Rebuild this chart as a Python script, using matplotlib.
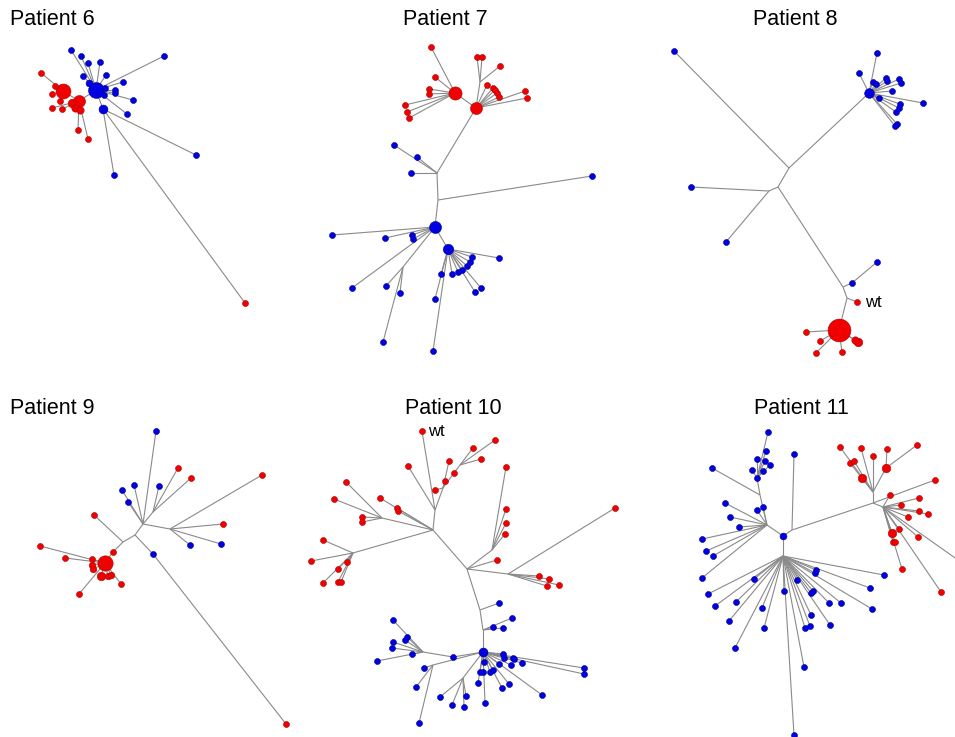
import matplotlib.pyplot as plt
from matplotlib.collections import LineCollection

# haplotype trees, node coords (pixels), parent = index, -1 root
# col: r = red, b = blue, n = internal node (no marker); n = haplotype abundance

p6_x = [96, 103, 79, 63, 71, 81, 88, 100, 106, 83, 123, 115, 115, 133, 127, 164, 89, 105, 104,
        196, 114, 245, 41, 55, 52, 60, 52, 62, 78, 88, 72, 75, 80]
p6_y = [90, 109, 101, 91, 50, 56, 63, 62, 75, 76, 82, 90, 93, 100, 114, 56, 83, 88, 95,
        155, 175, 303, 73, 86, 94, 101, 108, 109, 130, 139, 103, 108, 110]
p6_par = [-1, 0, 0, 2, 0, 0, 0, 0, 0, 0, 0, 0, 0, 0, 0, 0, 0, 0, 0,
          1, 1, 1, 3, 3, 3, 3, 2, 2, 2, 2, 2, 2, 2]
p6_col = "bbrrbbbbbbbbbbbbbbbbbrrrrrrrrrrrr"
p6_n = [7, 2.2, 4, 6.2, 1, 1, 1, 1, 1, 1, 1, 1, 1, 1, 1, 1, 1.3, 1, 1,
        1, 1, 1, 1, 1, 1, 1, 1, 1, 1, 1, 2, 1.5, 1.5]

p7_x = [437, 438, 476, 455, 435, 448, 592, 394, 417, 411,
        431, 435, 429, 429, 405, 407, 409,
        480, 477, 482, 500, 487, 493, 495, 497, 499, 525, 527,
        332, 385, 412, 413, 352, 403, 386, 400, 383,
        499, 472, 470, 467, 462, 458, 452, 475, 481, 441, 435, 433]
p7_y = [173, 200, 108, 93, 227, 249, 176, 145, 157, 173,
        47, 77, 89, 94, 105, 112, 118,
        82, 57, 57, 66, 85, 88, 90, 93, 97, 91, 98,
        235, 238, 235, 239, 288, 267, 286, 293, 342,
        258, 257, 262, 266, 270, 272, 274, 292, 288, 274, 299, 351]
p7_par = [-1, 0, 0, 2, 1, 4, 1, 0, 0, 0,
          3, 3, 3, 3, 3, 3, 3,
          2, 17, 17, 17, 2, 2, 2, 2, 2, 2, 2,
          4, 4, 4, 4, 4, 4, 33, 33, 33,
          5, 5, 5, 5, 5, 5, 5, 5, 5, 5, 5, 5]
p7_col = "nnrrbbbbbb" + "rrrrrrr" + "nrrrrrrrrrr" + "bbbbbnbbb" + "bbbbbbbbbbbb"
p7_n = [0, 0, 4, 4.8, 4, 3, 1, 1, 1, 1] + [1] * 7 + [0] + [1] * 10 + [1] * 5 + [0] + [1] * 3 + [1] * 12

p8_x = [789, 869, 674, 778, 769, 691, 726, 843, 852, 877, 847, 857, 839,
        877, 859, 873, 876, 886, 887, 899, 901, 892, 923, 879, 900, 899, 896, 897, 895,
        806, 820, 816, 842, 858, 855]
p8_y = [168, 93, 51, 187, 191, 187, 242, 287, 283, 262, 298, 302, 330,
        53, 73, 82, 84, 78, 81, 79, 83, 91, 103, 98, 104, 108, 112, 124, 126,
        332, 341, 353, 352, 342, 340]
p8_par = [-1, 0, 0, 0, 3, 4, 4, 3, 7, 8, 7, 10, 10] + [1] * 16 + [12] * 6
p8_col = "nbbnnbbnbbnrr" + "b" * 16 + "r" * 6
p8_n = [0, 2.6, 1, 0, 0, 1, 1, 0, 1, 1, 0, 1, 14.5] + [1] * 16 + [1, 1, 1, 1, 2, 1.5]

p9_x = [143, 135, 123, 113, 105, 101, 153, 170, 153, 286, 94, 156, 122, 134, 128,
        178, 191, 159, 262, 223, 190, 221, 40, 65, 92, 79, 121, 92, 93, 108, 111]
p9_y = [524, 535, 542, 552, 563, 576, 512, 529, 554, 724, 515, 431, 490, 485, 502,
        468, 478, 486, 475, 524, 545, 544, 546, 558, 559, 594, 584, 565, 569, 576, 575]
p9_par = [-1, 0, 1, 2, 3, 4, 0, 0, 1, 8, 2, 0, 0, 0, 0,
          6, 6, 6, 7, 7, 7, 7, 4, 4, 4, 4, 4, 4, 4, 4, 4]
p9_col = "nnnrrrnnbrrbbbb" + "rrbrrbb" + "r" * 9
p9_n = [0, 0, 0, 1, 6.5, 2, 0, 0, 1, 1, 1, 1, 1, 1, 1,
        1, 1, 1, 1, 1, 1, 1, 1, 1, 1, 1, 1, 1.2, 1.2, 1.2, 1.2]

p10_x = [433, 435, 443, 422, 353, 323, 311, 338, 347, 323, 338, 341,
         382, 346, 334, 362, 362, 380, 397, 398, 408, 435, 445, 454, 449, 460, 473, 495, 481,
         467, 492, 506, 506, 506, 505, 497, 508, 539, 549, 547, 559, 615,
         480, 499, 483, 493, 512, 503, 483,
         503, 504, 513, 514, 522, 511, 499, 584, 584, 542, 509, 502, 493, 490, 484, 483, 480, 478, 485,
         463, 464, 466, 452, 440, 453, 423, 393, 407, 405, 393, 392, 412, 377, 433, 424, 416, 419]
p10_y = [530, 510, 488, 431, 553, 540, 561, 569, 562, 583, 582, 582,
         518, 482, 499, 517, 522, 498, 508, 511, 466, 490, 481, 473, 461, 465, 448, 440, 459,
         569, 550, 467, 509, 523, 534, 560, 574, 576, 579, 586, 585, 508,
         610, 603, 630, 627, 618, 628, 652,
         654, 658, 658, 659, 663, 665, 664, 668, 674, 695, 684, 688, 670, 672, 662, 672, 672, 683, 703,
         678, 707, 696, 705, 697, 657, 652, 620, 637, 640, 642, 648, 654, 661, 665, 668, 687, 723]
p10_par = [-1, 0, 1, 1, 0, 4, 4, 4, 4, 4, 4, 4,
           0, 12, 12, 12, 12, 0, 0, 0, 1, 2, 2, 2, 2, 23, 25, 25, 25,
           0, 29, 30, 30, 30, 30, 29, 29, 36, 36, 36, 36, 36,
           29, 42, 42, 44, 44, 44, 44] + [48] * 19 + [48, 68, 68, 68, 68, 48, 73] + [74] * 7 + [48, 82, 82, 82]
p10_col = ("nnnrnrrrrrrr" + "nrrrrrrrrrrrrnrrr" + "nnrrrrrnrrrrr" + "nbnbbbb"
           + "b" * 19 + "nbbbbbn" + "b" * 7 + "nbbb")
p10_n = ([0, 0, 0, 1, 0] + [1] * 7 + [0] + [1] * 12 + [0] + [1] * 3 + [0, 0] + [1] * 5 + [0] + [1] * 5
         + [0, 1, 0, 1, 1, 1, 2.2] + [1] * 19 + [0, 1, 1, 1, 1, 1, 0] + [1] * 7 + [0, 1, 1, 1])

p11_x = [783, 783, 792, 794, 873, 767, 760, 757, 768, 766, 757, 765, 770, 752, 763, 712,
         763, 757, 725, 730, 739, 702, 706, 713, 702,
         754, 708, 715, 736, 729, 735, 762, 764, 784, 797, 794, 804, 805, 810, 811, 811, 813,
         829, 841, 830, 815, 816, 884, 870, 872,
         873, 840, 850, 854, 862, 861, 873, 886, 887, 917, 935,
         883, 890, 901, 919, 919, 928, 908, 899, 918, 892, 893, 895, 902, 941, 958]
p11_y = [536, 556, 530, 454, 503, 525, 495, 478, 432, 451, 459, 461, 465, 470, 471, 468,
         507, 510, 503, 517, 527, 539, 551, 556, 578,
         579, 594, 606, 602, 621, 648, 608, 628, 591, 580, 735, 667, 628, 626, 615, 593, 591,
         603, 603, 625, 573, 570, 575, 588, 609,
         492, 447, 463, 461, 478, 448, 456, 468, 449, 445, 480,
         507, 495, 505, 498, 511, 514, 517, 529, 537, 533, 542, 542, 569, 592, 560]
p11_par = ([-1, 0, 0, 2, 2, 0, 5, 6] + [7] * 7 + [6] + [5] * 9 + [1] * 25
           + [4] + [50] * 7 + [57, 57, 4] + [4] + [61] * 14)
p11_col = ("bnnbnnnb" + "b" * 8 + "b" * 9 + "b" * 25
           + "n" + "r" * 10 + "n" + "r" * 13 + "n")
p11_n = ([1.3, 0, 0, 1, 0, 0, 0, 1] + [1] * 8 + [1] * 9 + [1] * 25
         + [0, 1, 1, 1, 2, 1, 1, 2, 1, 1, 1] + [0] + [1] * 8 + [2, 1, 1, 1, 1, 0])

titles = ["Patient 6", "Patient 7", "Patient 8", "Patient 9", "Patient 10", "Patient 11"]
title_pos = [(10, 19, "left"), (445, 19, "center"), (795, 19, "center"),
             (10, 408, "left"), (453, 408, "center"), (801, 408, "center")]
wt_labels = [(865, 302), (428, 431)]

trees = [(p6_x, p6_y, p6_par, p6_col, p6_n), (p7_x, p7_y, p7_par, p7_col, p7_n),
         (p8_x, p8_y, p8_par, p8_col, p8_n), (p9_x, p9_y, p9_par, p9_col, p9_n),
         (p10_x, p10_y, p10_par, p10_col, p10_n), (p11_x, p11_y, p11_par, p11_col, p11_n)]

plt.rcParams['font.family'] = ['Liberation Sans', 'DejaVu Sans']
fig = plt.figure(figsize=(9.55, 7.37), dpi=100)
ax = fig.add_axes([0, 0, 1, 1])
ax.set_xlim(0, 955)
ax.set_ylim(737, 0)
ax.axis('off')

face = {'r': '#f00000', 'b': '#0000e0'}
edge = {'r': '#b00000', 'b': '#00009a'}

for xs, ys, par, col, n in trees:
    segs = [[(xs[i], ys[i]), (xs[p], ys[p])] for i, p in enumerate(par) if p >= 0]
    ax.add_collection(LineCollection(segs, colors='#8a8a8a', linewidths=0.8, zorder=1))
    # big nodes first so the small leaves sit on top
    order = sorted([i for i in range(len(xs)) if col[i] != 'n'], key=lambda i: -n[i])
    for i in order:
        d = 6.0 * n[i] ** 0.5  # diameter in px
        ax.scatter(xs[i], ys[i], s=(d * 0.72) ** 2, c=face[col[i]],
                   edgecolors=edge[col[i]], linewidths=0.4, zorder=2)

for t, (x, y, ha) in zip(titles, title_pos):
    ax.text(x, y, t, fontsize=15.5, ha=ha, va='center')
for x, y in wt_labels:
    ax.text(x, y, "wt", fontsize=12, ha='left', va='center')

fig.savefig('out.png', dpi=100)
